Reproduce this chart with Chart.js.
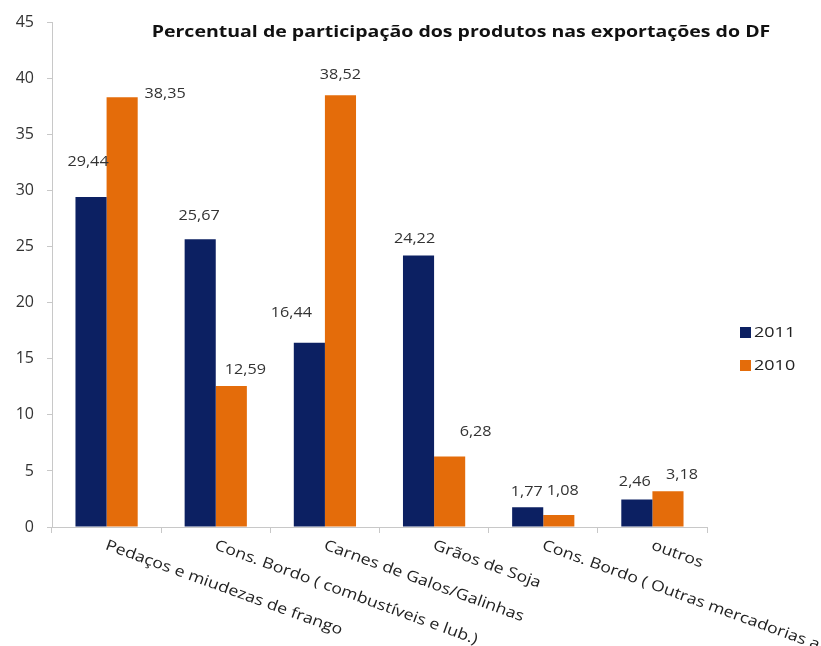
<!DOCTYPE html>
<html><head><meta charset="utf-8">
<script src="https://cdn.jsdelivr.net/npm/chart.js@4/dist/chart.umd.min.js"></script>
<style>html,body{margin:0;padding:0;background:#fff}#wrap{width:821px;height:646px;position:relative}</style>
</head><body><div id="wrap"><canvas id="c" width="821" height="646"></canvas></div>
<script>
const categories = [
  'Pedaços e miudezas de frango',
  'Cons. Bordo ( combustíveis e lub.)',
  'Carnes de Galos/Galinhas',
  'Grãos de Soja',
  'Cons. Bordo ( Outras mercadorias a bordo)',
  'outros'
];
const seriesNames = ['2011', '2010'];
const values2011 = [29.44, 25.67, 16.44, 24.22, 1.77, 2.46];
const values2010 = [38.35, 12.59, 38.52, 6.28, 1.08, 3.18];
const yTickValues = [0, 5, 10, 15, 20, 25, 30, 35, 40, 45];
const chartTitle = 'Percentual de participação dos produtos nas exportações do DF';
// small nudges (px) for the value annotations, relative to the bar top centre
const nudge2011 = [[-3,-35],[-1,-24],[-18,-30],[-4,-17],[-1,-15],[-2,-18]];
const nudge2010 = [[43,-3],[14,-16],[0,-20],[26,-25],[4,-24],[14,-17]];

const colors = ['#0c2062', '#e46c0a'];
const FONT = '"Open Sans", "DejaVu Sans", sans-serif';
const fmt = v => v.toFixed(2).replace('.', ',');

function stretchedText(ctx, text, x, y, sx) {
  ctx.save();
  ctx.translate(x, y);
  ctx.scale(sx, 1);
  ctx.fillText(text, 0, 0);
  ctx.restore();
}

const overlay = {
  id: 'overlay',
  afterDatasetsDraw(chart) {
    const ctx = chart.ctx;
    const nudges = [nudge2011, nudge2010];
    ctx.save();
    ctx.font = '15px ' + FONT;
    ctx.fillStyle = '#333';
    ctx.textAlign = 'center';
    ctx.textBaseline = 'middle';
    chart.data.datasets.forEach((ds, di) => {
      const meta = chart.getDatasetMeta(di);
      meta.data.forEach((el, i) => {
        const n = nudges[di][i];
        stretchedText(ctx, fmt(ds.data[i]), el.x + n[0], el.y + n[1], 1.08);
      });
    });
    ctx.restore();
  },
  afterDraw(chart) {
    const ctx = chart.ctx;
    const xs = chart.scales.x;
    // rotated category labels
    ctx.save();
    ctx.font = '15px ' + FONT;
    ctx.fillStyle = '#222';
    ctx.textAlign = 'left';
    ctx.textBaseline = 'top';
    categories.forEach((c, i) => {
      const x = xs.getPixelForValue(i);
      ctx.save();
      ctx.translate(x + 2, 538);
      ctx.rotate(20 * Math.PI / 180);
      ctx.scale(1.18, 1);
      ctx.fillText(c, 0, 0);
      ctx.restore();
    });
    ctx.restore();
    // title
    ctx.save();
    ctx.font = 'bold 16px ' + FONT;
    ctx.fillStyle = '#111';
    ctx.textAlign = 'center';
    ctx.textBaseline = 'middle';
    stretchedText(ctx, chartTitle, 461, 32, 1.22);
    ctx.restore();
    // legend
    ctx.save();
    ctx.font = '15px ' + FONT;
    ctx.textBaseline = 'middle';
    ctx.textAlign = 'left';
    seriesNames.forEach((s, i) => {
      const y = 333 + i * 33;
      ctx.fillStyle = colors[i];
      ctx.fillRect(740, y - 6, 11, 11);
      ctx.fillStyle = '#222';
      stretchedText(ctx, s, 754, y, 1.2);
    });
    ctx.restore();
  }
};

new Chart(document.getElementById('c'), {
  type: 'bar',
  data: {
    labels: categories,
    datasets: [
      { label: seriesNames[0], data: values2011, backgroundColor: colors[0] },
      { label: seriesNames[1], data: values2010, backgroundColor: colors[1] }
    ]
  },
  options: {
    responsive: false,
    devicePixelRatio: 1,
    animation: false,
    layout: { padding: { top: 20, right: 114, left: 0, bottom: 0 } },
    plugins: { legend: { display: false }, title: { display: false }, tooltip: { enabled: false } },
    datasets: { bar: { categoryPercentage: 0.57, barPercentage: 1 } },
    scales: {
      x: {
        grid: { display: true, drawOnChartArea: false, drawTicks: true, tickLength: 6, color: '#c8c8c8', offset: true },
        border: { color: '#c8c8c8' },
        ticks: { display: false },
        afterFit: s => { s.height = 119; }
      },
      y: {
        min: 0, max: 45,
        afterBuildTicks: s => { s.ticks = yTickValues.map(v => ({ value: v })); },
        grid: { display: true, drawOnChartArea: false, drawTicks: true, tickLength: 5, color: '#c8c8c8' },
        border: { color: '#c8c8c8' },
        ticks: { font: { size: 16, family: FONT }, color: '#333', padding: 13 },
        afterFit: s => { s.width = 52; }
      }
    }
  },
  plugins: [overlay]
});
</script>
</body></html>
